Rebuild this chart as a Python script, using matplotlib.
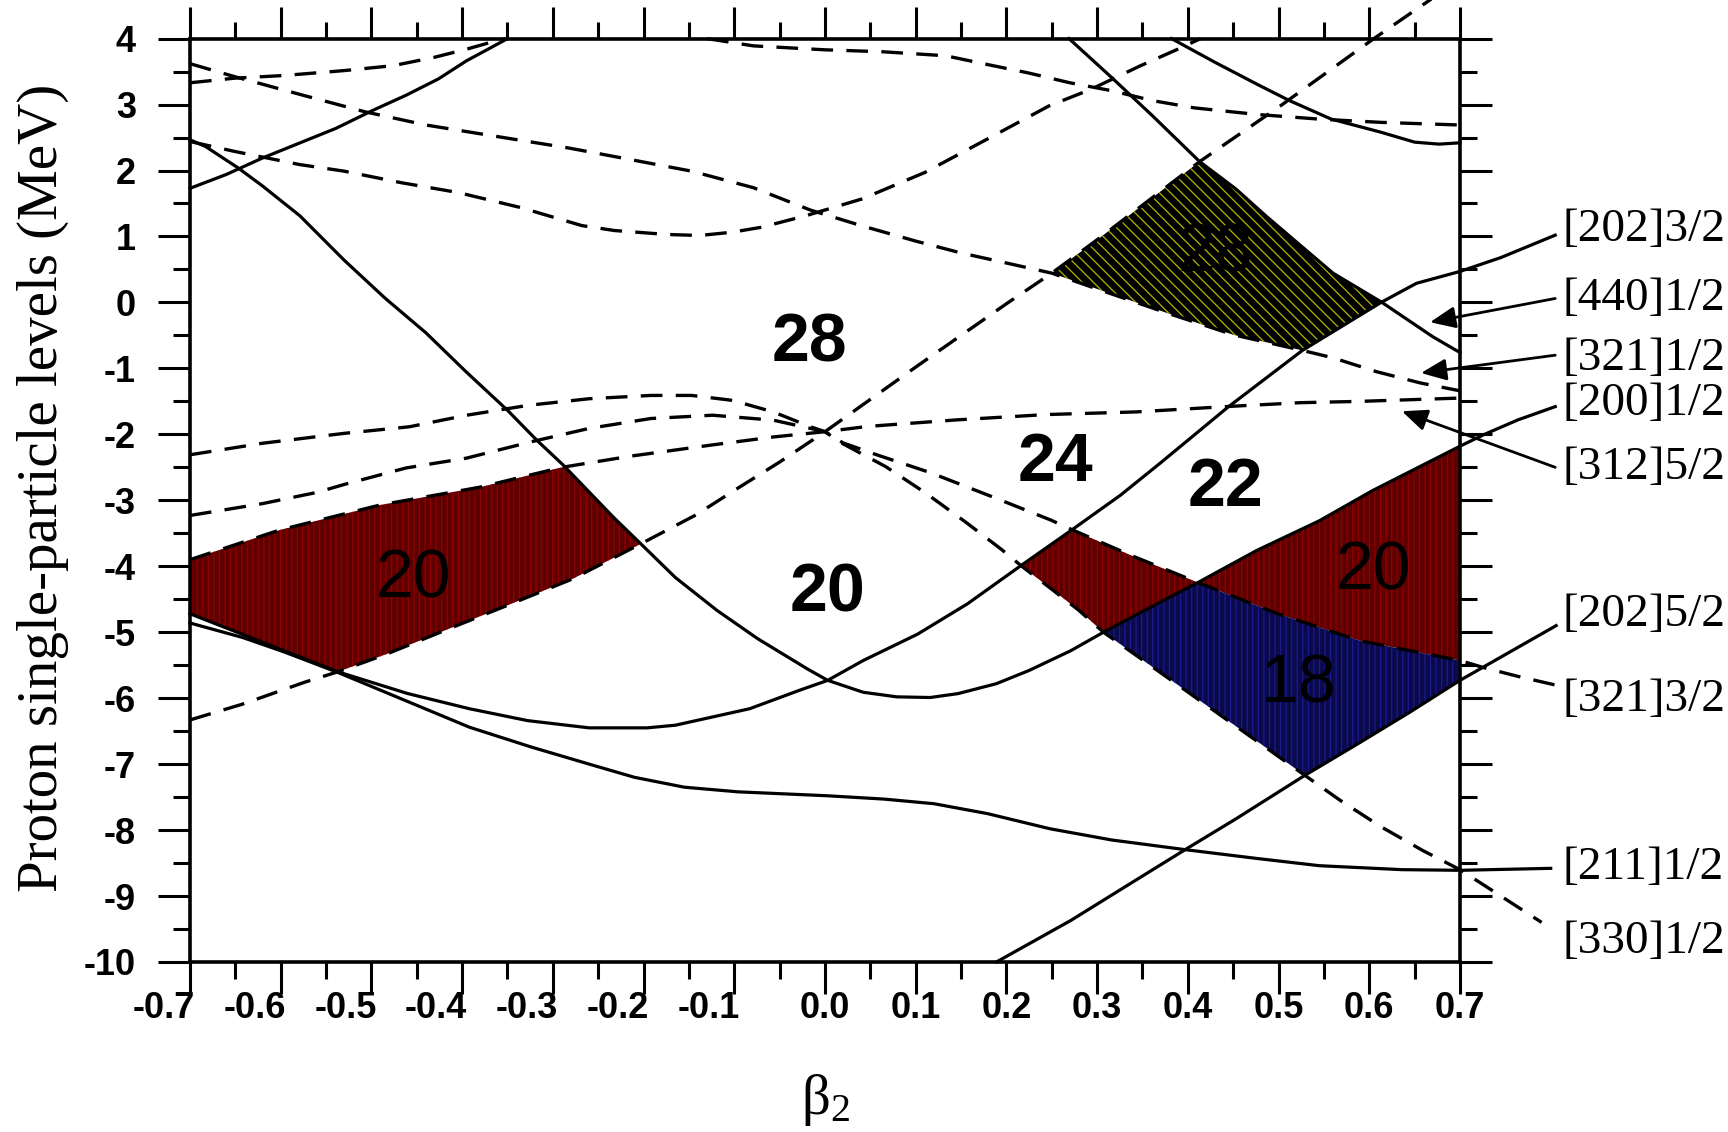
import numpy as np
import matplotlib.pyplot as plt
from matplotlib.transforms import ScaledTranslation

plt.rcParams['font.family'] = ['Liberation Sans', 'DejaVu Sans']
plt.rcParams['axes.unicode_minus'] = False
plt.rcParams['mathtext.fontset'] = 'custom'
plt.rcParams['mathtext.rm'] = 'Liberation Serif'
plt.rcParams['mathtext.it'] = 'Liberation Serif:italic'
plt.rcParams['hatch.linewidth'] = 0.9

# ---- single-particle levels: beta2 and energy (MeV) ----
# solid levels
a_b = [-0.70, -0.66, -0.62, -0.575, -0.539, -0.498, -0.462, -0.426, -0.395, -0.368, -0.350]
a_e = [1.73, 1.94, 2.19, 2.44, 2.64, 2.915, 3.14, 3.39, 3.665, 3.865, 4.0]

# [200]1/2
b_b = [-0.70, -0.683, -0.647, -0.62, -0.579, -0.530, -0.485, -0.440, -0.395, -0.350, -0.318,
       -0.289, -0.233, -0.203, -0.165, -0.119, -0.074, -0.019, 0.003, 0.042, 0.079, 0.116,
       0.147, 0.189, 0.225, 0.271, 0.307, 0.362, 0.412, 0.476, 0.545, 0.604, 0.70,
       0.727, 0.764, 0.805]
b_e = [2.465, 2.365, 2.04, 1.765, 1.315, 0.64, 0.065, -0.46, -1.06, -1.635, -2.085,
       -2.46, -3.26, -3.66, -4.17, -4.67, -5.10, -5.56, -5.73, -5.91, -5.98, -5.99,
       -5.93, -5.78, -5.58, -5.28, -5.0, -4.60, -4.24, -3.76, -3.31, -2.85, -2.18,
       -2.0, -1.78, -1.58]

# [202]3/2
c_b = [-0.70, -0.537, -0.46, -0.392, -0.328, -0.26, -0.196, -0.165, -0.083, -0.028, 0.003,
       0.042, 0.102, 0.157, 0.216, 0.271, 0.326, 0.371, 0.444, 0.526, 0.613, 0.652, 0.70,
       0.745, 0.805]
c_e = [-4.72, -5.60, -5.93, -6.16, -6.34, -6.45, -6.45, -6.41, -6.16, -5.88, -5.73,
       -5.43, -5.03, -4.57, -3.99, -3.46, -2.92, -2.42, -1.59, -0.73, 0.0, 0.29, 0.47,
       0.68, 1.02]

# [211]1/2
d_b = [-0.70, -0.642, -0.596, -0.537, -0.392, -0.324, -0.255, -0.21, -0.155, -0.096, 0.003,
       0.065, 0.12, 0.179, 0.248, 0.316, 0.399, 0.476, 0.545, 0.636, 0.70, 0.80]
d_e = [-4.86, -5.08, -5.30, -5.61, -6.44, -6.74, -7.02, -7.20, -7.35, -7.42, -7.48,
       -7.53, -7.60, -7.75, -7.98, -8.15, -8.30, -8.43, -8.54, -8.60, -8.61, -8.58]

# [202]5/2
e_b = [0.189, 0.271, 0.339, 0.399, 0.453, 0.529, 0.59, 0.645, 0.70, 0.806]
e_e = [-10.0, -9.37, -8.79, -8.28, -7.83, -7.17, -6.67, -6.21, -5.73, -4.90]

# [440]1/2
f_b = [0.269, 0.316, 0.361, 0.413, 0.453, 0.487, 0.56, 0.614, 0.67, 0.70]
f_e = [4.0, 3.41, 2.83, 2.135, 1.72, 1.30, 0.444, 0.0, -0.52, -0.76]

g_b = [0.382, 0.43, 0.476, 0.512, 0.558, 0.613, 0.65, 0.677, 0.70]
g_e = [4.0, 3.64, 3.31, 3.06, 2.78, 2.58, 2.43, 2.40, 2.42]

# dashed levels
h1_b = [-0.70, -0.651, -0.597, -0.53, -0.476, -0.431, -0.395, -0.363, -0.352]
h1_e = [3.33, 3.40, 3.44, 3.515, 3.59, 3.715, 3.84, 3.965, 4.0]

# [321]1/2
h2_b = [-0.70, -0.65, -0.575, -0.507, -0.44, -0.35, -0.282, -0.214, -0.147, -0.079, -0.016,
        0.041, 0.10, 0.15, 0.196, 0.25, 0.303, 0.377, 0.45, 0.524, 0.56, 0.608, 0.656, 0.70]
h2_e = [3.62, 3.42, 3.14, 2.89, 2.69, 2.49, 2.34, 2.165, 1.99, 1.74, 1.40,
        1.16, 0.93, 0.75, 0.61, 0.444, 0.19, -0.16, -0.49, -0.72, -0.84, -1.05, -1.22, -1.34]

u_b = [-0.70, -0.651, -0.579, -0.53, -0.467, -0.404, -0.336, -0.268, -0.232, -0.174, -0.138,
       -0.102, -0.07, -0.021, 0.041, 0.11, 0.178, 0.247, 0.293, 0.348, 0.389, 0.414]
u_e = [2.44, 2.29, 2.09, 1.99, 1.815, 1.665, 1.44, 1.165, 1.09, 1.03, 1.015,
       1.065, 1.14, 1.315, 1.57, 1.97, 2.47, 2.98, 3.23, 3.59, 3.84, 4.0]

h4_b = [-0.13, -0.079, 0.0, 0.064, 0.133, 0.178, 0.224, 0.27, 0.316, 0.361, 0.407, 0.476,
        0.544, 0.613, 0.70]
h4_e = [4.0, 3.89, 3.83, 3.80, 3.74, 3.61, 3.48, 3.33, 3.21, 3.06, 2.95, 2.85,
        2.78, 2.73, 2.69]

h5_b = [-0.70, -0.642, -0.574, -0.537, -0.483, -0.415, -0.346, -0.278, -0.203, -0.142, -0.10,
        -0.05, 0.0, 0.10, 0.20, 0.25, 0.30, 0.413, 0.50, 0.604, 0.70]
h5_e = [-6.33, -6.09, -5.76, -5.60, -5.33, -4.95, -4.57, -4.19, -3.66, -3.22, -2.85,
        -2.42, -1.96, -0.98, -0.02, 0.444, 0.95, 2.135, 2.96, 3.99, 4.9]

# [330]1/2
k1_b = [-0.70, -0.62, -0.53, -0.458, -0.395, -0.327, -0.26, -0.192, -0.147, -0.102, -0.057,
        -0.016, 0.0, 0.018, 0.067, 0.111, 0.156, 0.195, 0.216, 0.252, 0.28, 0.307, 0.385,
        0.43, 0.476, 0.529, 0.568, 0.613, 0.659, 0.70, 0.79]
k1_e = [-2.31, -2.135, -1.985, -1.885, -1.71, -1.56, -1.46, -1.41, -1.41, -1.485, -1.66,
        -1.885, -1.96, -2.13, -2.49, -2.89, -3.34, -3.75, -3.99, -4.37, -4.67, -5.0, -5.76,
        -6.2, -6.65, -7.17, -7.55, -7.95, -8.31, -8.60, -9.40]

# [321]3/2
k2_b = [-0.70, -0.62, -0.56, -0.53, -0.462, -0.395, -0.323, -0.26, -0.192, -0.124, -0.057,
        -0.016, 0.0, 0.02, 0.057, 0.116, 0.185, 0.249, 0.268, 0.34, 0.41, 0.499, 0.59, 0.70,
        0.727, 0.764, 0.805]
k2_e = [-3.23, -3.05, -2.88, -2.76, -2.51, -2.36, -2.11, -1.91, -1.76, -1.71, -1.785,
        -1.91, -1.96, -2.13, -2.31, -2.58, -2.95, -3.30, -3.42, -3.85, -4.24, -4.72, -5.13, -5.43,
        -5.54, -5.67, -5.80]

# [312]5/2
k3_b = [-0.70, -0.601, -0.49, -0.38, -0.29, -0.214, -0.124, -0.057, 0.0, 0.047, 0.146,
        0.244, 0.343, 0.441, 0.524, 0.59, 0.70]
k3_e = [-3.90, -3.45, -3.07, -2.80, -2.50, -2.33, -2.16, -2.04, -1.96, -1.88, -1.78,
        -1.70, -1.66, -1.58, -1.52, -1.50, -1.45]

level_names = ['[202]3/2', '[440]1/2', '[321]1/2', '[200]1/2', '[312]5/2',
               '[202]5/2', '[321]3/2', '[211]1/2', '[330]1/2']
level_label_e = [1.10, 0.06, -0.85, -1.53, -2.51, -4.73, -6.02, -8.57, -9.70]

gap_numbers = ['28', '24', '22', '20', '20', '20', '18', '28']

# ---- figure ----
fig = plt.figure(figsize=(17.28, 11.32), dpi=100)
ax = fig.add_axes([0.10995, 0.15018, 0.73495, 0.81572])
ax.set_xlim(-0.7, 0.7)
ax.set_ylim(-10, 4)

solid = [(a_b, a_e), (b_b, b_e), (c_b, c_e), (d_b, d_e), (e_b, e_e), (f_b, f_e), (g_b, g_e)]
dashed = [(h1_b, h1_e), (h2_b, h2_e), (u_b, u_e), (h4_b, h4_e), (h5_b, h5_e),
          (k1_b, k1_e), (k2_b, k2_e), (k3_b, k3_e)]
for bx, ey in solid:
    ax.plot(bx, ey, color='black', lw=2.3, clip_on=False, zorder=3)
for bx, ey in dashed:
    ax.plot(bx, ey, color='black', lw=2.4, dashes=(6.5, 4.0), clip_on=False, zorder=3)

# ---- shaded gaps, bounded by the level curves ----
xs = np.linspace(-0.7, 0.7, 2801)
def lv(bx, ey, left=np.nan):
    return np.interp(xs, bx, ey, left=left, right=np.nan)

B, C, E, F = lv(b_b, b_e), lv(c_b, c_e), lv(e_b, e_e), lv(f_b, f_e, left=99)
H2, H5 = lv(h2_b, h2_e), lv(h5_b, h5_e)
K1, K2, K3 = lv(k1_b, k1_e), lv(k2_b, k2_e), lv(k3_b, k3_e)

def shade(top, bot, lo, hi, face, hcol, hatch):
    m = (top > bot) & (xs >= lo) & (xs <= hi)
    ax.fill_between(xs, bot, top, where=m, interpolate=True, facecolor=face,
                    edgecolor=hcol, hatch=hatch, linewidth=0, zorder=1)

red, redh = '#5e0000', '#900000'
shade(np.minimum(K3, B), np.maximum(C, H5), -0.70, -0.19, red, redh, '|||')
shade(np.minimum(C, K2), np.maximum(K1, B), 0.20, 0.42, red, redh, '|||')
shade(B, K2, 0.40, 0.70, red, redh, '|||')
shade(np.minimum(B, K2), np.maximum(K1, E), 0.28, 0.70, '#0a0a4a', '#1a1a90', '|||')
shade(np.minimum(H5, F), np.maximum(H2, C), 0.20, 0.65, 'black', '#b4b400', '\\\\\\')

# gap particle numbers
num_pos = [(-0.017, -0.62), (0.254, -2.44), (0.441, -2.82), (0.003, -4.42),
           (-0.454, -4.20), (0.605, -4.08), (0.522, -5.80), (0.43, 0.74)]
num_bold = [True, True, True, True, False, False, False, False]
for s, (px, py), bold in zip(gap_numbers, num_pos, num_bold):
    ax.text(px, py, s, fontsize=49, fontweight='bold' if bold else 'normal',
            ha='center', va='center', zorder=4)

# level labels on the right
for s, y in zip(level_names, level_label_e):
    ax.text(0.813, y, s, fontsize=34, family='Liberation Serif', ha='left', va='center',
            clip_on=False)

arrow_kw = dict(arrowstyle='-|>,head_length=0.7,head_width=0.3', color='black', lw=2.0,
                shrinkA=0, shrinkB=0, mutation_scale=22)
for tail, head in [((0.805, 0.06), (0.667, -0.30)),
                   ((0.805, -0.80), (0.657, -1.07)),
                   ((0.805, -2.50), (0.636, -1.65))]:
    ax.annotate('', xy=head, xytext=tail, arrowprops=arrow_kw, annotation_clip=False)

# ---- axes styling ----
xmaj = np.round(np.arange(-0.7, 0.71, 0.1), 2)
ax.set_xticks(xmaj)
ax.set_xticks(np.round(np.arange(-0.65, 0.7, 0.1), 3), minor=True)
ax.set_yticks(np.arange(-10, 5, 1))
ax.set_yticks(np.arange(-9.5, 4, 1), minor=True)
ax.set_xticklabels(['%.1f' % (v + 0.0) for v in xmaj])
ax.tick_params(which='both', direction='out', width=2.2, top=True, right=True,
               labelsize=26)
ax.tick_params(which='major', length=23)
ax.tick_params(which='minor', length=12.5)
ax.tick_params(axis='x', pad=-2)
ax.tick_params(axis='y', pad=16)
for lab in ax.get_xticklabels() + ax.get_yticklabels():
    lab.set_fontweight('bold')
# negative beta labels sit a bit to the left of their ticks in the original
neg_shift = ScaledTranslation(-0.26, 0, fig.dpi_scale_trans)
for v, lab in zip(xmaj, ax.get_xticklabels()):
    if v < 0:
        lab.set_transform(lab.get_transform() + neg_shift)
for sp in ax.spines.values():
    sp.set_linewidth(2.6)

fig.text(0.0249, 0.569, 'Proton single-particle levels (MeV)', rotation=90,
         family='Liberation Serif', fontsize=41, ha='center', va='center')
fig.text(0.478, 0.028, 'β$_2$', family='Liberation Serif', fontsize=41,
         ha='center', va='center')

fig.savefig('out.png', dpi=100)
